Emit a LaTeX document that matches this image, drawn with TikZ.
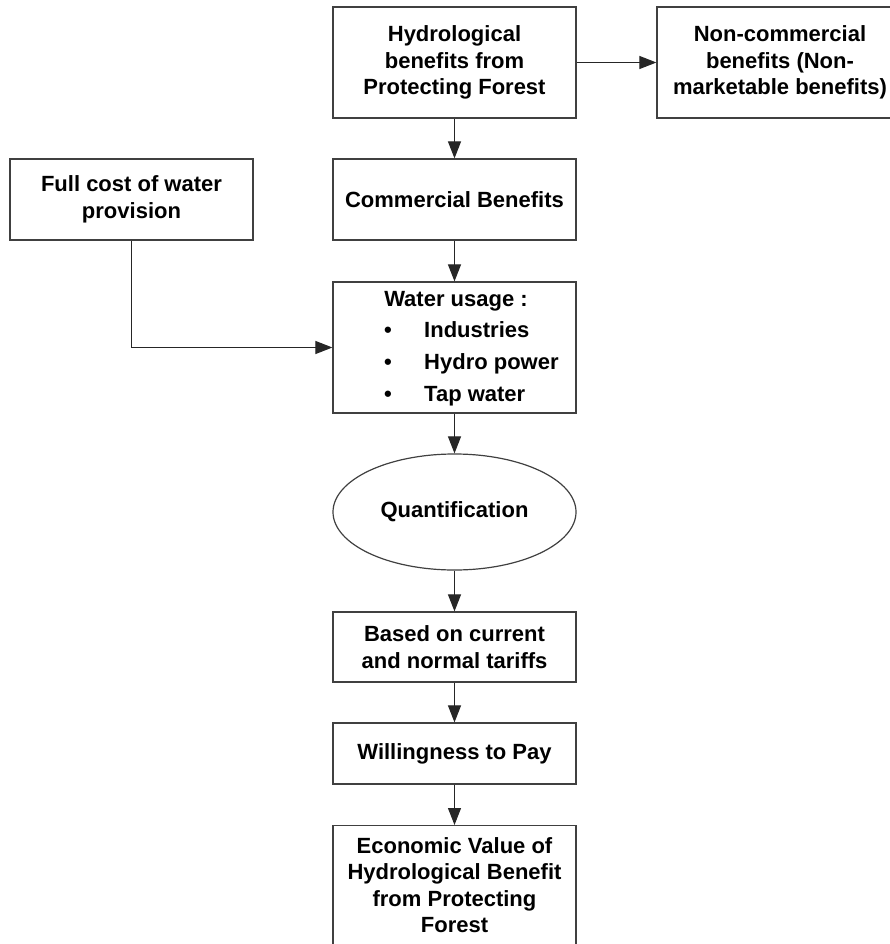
\documentclass[tikz,border=0pt]{standalone}
\usepackage{fontspec}
\setmainfont{Liberation Sans}
\usetikzlibrary{arrows.meta,shapes.geometric}
\begin{document}
\begin{tikzpicture}[x=1pt,y=-1pt,
  txt/.style={font=\fontsize{22}{26.5}\selectfont\bfseries, align=center},
  box/.style={draw=black!75, line width=1.2pt, rectangle, inner sep=0pt, txt},
  lbl/.style={inner sep=0pt, txt},
  conn/.style={draw=black!85, line width=1.1pt, -{Triangle[length=17pt,width=13pt]}}]
\useasboundingbox (0,0) rectangle (890,944);
\node[box, minimum width=243pt, minimum height=111pt] (hydro) at (454.5,62.5) {Hydrological\\benefits from\\Protecting Forest};
\node[box, minimum width=246pt, minimum height=111pt] (noncomm) at (780,62.5) {Non-commercial\\benefits (Non-\\marketable benefits)};
\node[box, minimum width=243pt, minimum height=81pt] (fullcost) at (131.5,199.5) {Full cost of water\\provision};
\node[box, minimum width=243pt, minimum height=81pt] (comm) at (454.5,199.5) {Commercial Benefits};
\node[box, minimum width=243pt, minimum height=131pt] (water) at (454.5,347.5) {};
\node[lbl, anchor=base] (wtitle) at (456,306) {Water usage :};
\node[lbl, anchor=base] (b1) at (388,337) {•};
\node[lbl, anchor=base] (b2) at (388,369) {•};
\node[lbl, anchor=base] (b3) at (388,401) {•};
\node[lbl, anchor=base west] (i1) at (424,337) {Industries};
\node[lbl, anchor=base west] (i2) at (424,369) {Hydro power};
\node[lbl, anchor=base west] (i3) at (424,401) {Tap water};
\node[box, ellipse, minimum width=243pt, minimum height=116pt] (quant) at (454.5,512) {Quantification};
\node[box, minimum width=243pt, minimum height=70pt] (based) at (454.5,647) {Based on current\\and normal tariffs};
\node[box, minimum width=243pt, minimum height=61pt] (will) at (454.5,753.5) {Willingness to Pay};
\node[box, minimum width=243pt, minimum height=140pt, anchor=north] (econ) at (454.5,825) {};
\node[lbl] (econtext) at (454.5,885) {Economic Value of\\Hydrological Benefit\\from Protecting\\Forest};
\draw[conn] (hydro) -- (noncomm);
\draw[conn] (hydro) -- (comm);
\draw[conn] (comm) -- (water);
\draw[conn] (fullcost.south) |- (water.west);
\draw[conn] (water) -- (quant);
\draw[conn] (quant) -- (based);
\draw[conn] (based) -- (will);
\draw[conn] (will) -- (econ);
\end{tikzpicture}
\end{document}
